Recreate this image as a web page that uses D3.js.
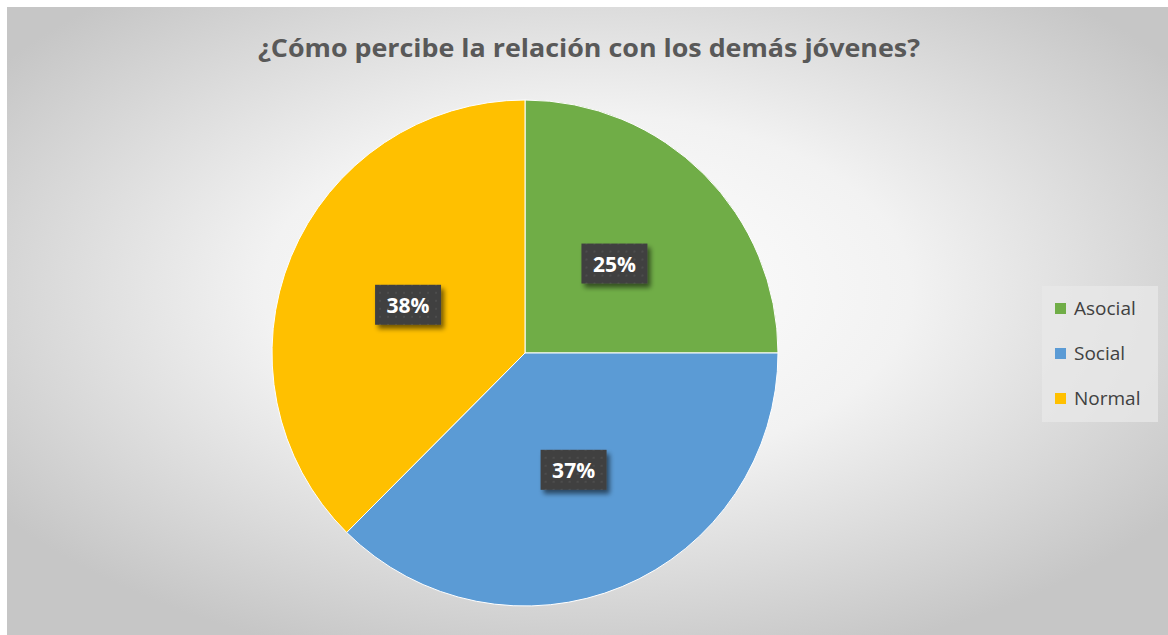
<!DOCTYPE html>
<html>
<head>
<meta charset="utf-8">
<script src="https://cdn.jsdelivr.net/npm/d3@7"></script>
<style>
body{margin:0;background:#fff;}
</style>
</head>
<body>
<div class="chart"></div>
<script>
var width=1168
var height=635
var titletext='¿Cómo percibe la relación con los demás jóvenes?'
var categories=['Asocial','Social','Normal']
var values=[25,37.45,37.55]
var colors=['#70AD47','#5B9BD5','#FFC000']

var svg=d3.select('.chart').append('svg').attr('width',width).attr('height',height)

var defs=svg.append('defs')
var grad=defs.append('radialGradient').attr('id','bg')
    .attr('cx','0.5').attr('cy','0.45').attr('r','0.62')
grad.append('stop').attr('offset','0').attr('stop-color','#ffffff')
grad.append('stop').attr('offset','0.45').attr('stop-color','#f2f2f2')
grad.append('stop').attr('offset','1').attr('stop-color','#c6c6c6')

// dotted pattern for label boxes
var pat=defs.append('pattern').attr('id','dots')
    .attr('width',8).attr('height',8).attr('patternUnits','userSpaceOnUse')
pat.append('rect').attr('width',8).attr('height',8).attr('fill','#404040')
pat.append('rect').attr('x',3).attr('y',3).attr('width',2).attr('height',2).attr('fill','#4d4d4d')

var shadow=defs.append('filter').attr('id','shadow').attr('x','-30%').attr('y','-30%').attr('width','170%').attr('height','170%')
shadow.append('feGaussianBlur').attr('in','SourceAlpha').attr('stdDeviation',2.5)
shadow.append('feOffset').attr('dx',3).attr('dy',4).attr('result','b')
shadow.append('feComponentTransfer').append('feFuncA').attr('type','linear').attr('slope',0.55)
var merge=shadow.append('feMerge')
merge.append('feMergeNode')
merge.append('feMergeNode').attr('in','SourceGraphic')

svg.append('rect')
   .attr('x',7).attr('y',7).attr('width',width-7).attr('height',height-7)
   .attr('fill','url(#bg)')

svg.append('text')
   .text(titletext)
   .attr('x',589).attr('y',57)
   .attr('text-anchor','middle')
   .attr('textLength',662)
   .attr('lengthAdjust','spacingAndGlyphs')
   .attr('fill','#595959')
   .style('font-family','Open Sans')
   .style('font-weight','bold')
   .style('font-size','25px')

var cx=525, cy=353, radius=253

var pie=d3.pie().sort(null).value(function(d){return d})
var arcs=pie(values)
var arc=d3.arc().innerRadius(0).outerRadius(radius)
var labelarc=d3.arc().innerRadius(radius*0.5).outerRadius(radius*0.5)

var pieg=svg.append('g').attr('transform','translate('+cx+','+cy+')')

pieg.selectAll('path')
    .data(arcs).enter()
    .append('path')
    .attr('d',arc)
    .attr('fill',function(d,i){return colors[i]})
    .attr('stroke','#ffffff')
    .attr('stroke-width',1)

var labels=pieg.selectAll('g.lab')
    .data(arcs).enter()
    .append('g').attr('class','lab')
    .attr('transform',function(d){var c=labelarc.centroid(d);return 'translate('+c[0]+','+c[1]+')'})

labels.append('rect')
    .attr('x',-33).attr('y',-20).attr('width',66).attr('height',40)
    .attr('fill','url(#dots)')
    .attr('filter','url(#shadow)')

labels.append('text')
    .text(function(d){return Math.round(d.data)+'%'})
    .attr('text-anchor','middle')
    .attr('y',8)
    .attr('fill','#ffffff')
    .style('font-family','Open Sans')
    .style('font-weight','bold')
    .style('font-size','21px')

var legend=svg.append('g')
legend.append('rect')
    .attr('x',1042).attr('y',286).attr('width',116).attr('height',136)
    .attr('fill','#e8e8e8').attr('opacity',0.75)

var legy=d3.scalePoint().domain(categories).range([308,398])

legend.selectAll('rect.sw')
    .data(categories).enter()
    .append('rect').attr('class','sw')
    .attr('x',1055).attr('y',function(d){return legy(d)-5})
    .attr('width',11).attr('height',11)
    .attr('fill',function(d,i){return colors[i]})

legend.selectAll('text')
    .data(categories).enter()
    .append('text')
    .text(function(d){return d})
    .attr('x',1074).attr('y',function(d){return legy(d)+7})
    .attr('fill','#404040')
    .style('font-family','Open Sans')
    .style('font-size','19px')
</script>
</body>
</html>
